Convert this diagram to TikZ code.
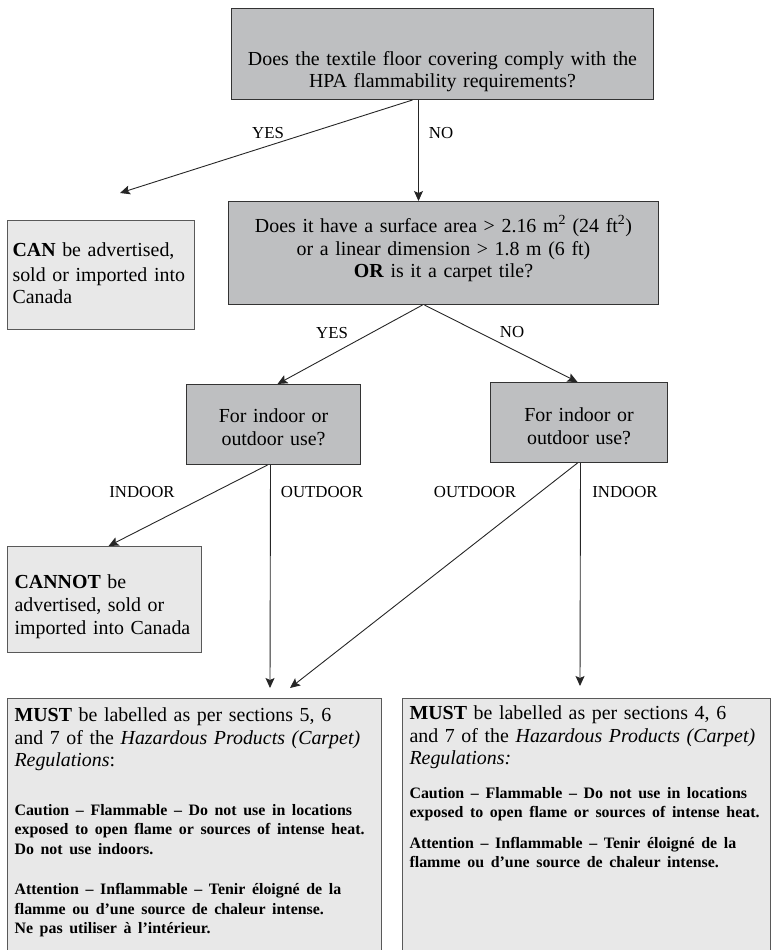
\documentclass[tikz,border=0pt]{standalone}
\usepackage{fontspec}
\setmainfont{Liberation Serif}
\usepackage{xcolor}
\definecolor{askgray}{RGB}{190,191,193}
\definecolor{endgray}{RGB}{232,232,232}
\usetikzlibrary{arrows.meta}
\hyphenpenalty=10000
\exhyphenpenalty=10000

\begin{document}
\begin{tikzpicture}[
    x=1pt, y=-1pt,
    >={Stealth[length=10pt, width=9pt, inset=2pt]},
    question/.style={draw=black!80, fill=askgray, line width=1pt, anchor=north west,
                     inner xsep=0pt, inner ysep=0pt, align=center,
                     font=\fontsize{19.9}{22.5}\selectfont},
    outcome/.style={draw=black!65, fill=endgray, line width=1.1pt, anchor=north west,
                    inner ysep=0pt, align=left,
                    font=\fontsize{19.9}{22.5}\selectfont},
    branch/.style={font=\fontsize{16.8}{18}\selectfont, inner sep=0pt},
    flow/.style={->, line width=0.9pt, draw=black!85}
]
\useasboundingbox (0,0) rectangle (771,950);
\clip (0,0) rectangle (771,950);

% ---- questions ----
\node[question, text width=422pt, text height=57pt, text depth=34pt] (q1) at (231,8)
  {Does the textile floor covering comply with the\\HPA flammability requirements?};
\node[question, text width=430pt, text height=31pt, text depth=72pt] (q2) at (228,201)
  {Does it have a surface area > 2.16 m\textsuperscript{2} (24 ft\textsuperscript{2})\\
   or a linear dimension > 1.8 m (6 ft)\\
   \textbf{OR} is it a carpet tile?};
\node[question, text width=174pt, text height=38pt, text depth=42pt] (q3) at (186,384)
  {For indoor or\\outdoor use?};
\node[question, text width=177pt, text height=39pt, text depth=41pt] (q4) at (490,382)
  {For indoor or\\outdoor use?};

% ---- outcomes ----
\node[outcome, inner xsep=5pt, text width=177pt, text height=36pt, text depth=73pt] (can) at (7,220)
  {\fontsize{19.9}{24.5}\selectfont
   \textbf{CAN} be advertised,\\sold or imported into\\Canada};
\node[outcome, inner xsep=7pt, text width=180pt, text height=42pt, text depth=64pt] (cannot) at (7,546)
  {\fontsize{19.9}{23}\selectfont
   \textbf{CANNOT} be\\advertised, sold or\\imported into Canada};

\node[outcome, inner xsep=7pt, text width=360pt, text height=23pt, text depth=270pt] (mustL) at (7,698)
  {\textbf{MUST} be labelled as per sections 5, 6\\
   and 7 of the \textit{Hazardous Products (Carpet)}\\
   \textit{Regulations}:\par
   \vspace{29pt}
   {\fontsize{15.9}{19.5}\selectfont\bfseries
   Caution -- Flammable -- Do not use in locations\\
   exposed to open flame or sources of intense heat.\\
   Do not use indoors.\par
   \vspace{21pt}
   Attention -- Inflammable -- Tenir éloigné de la\\
   flamme ou d’une source de chaleur intense.\\
   Ne pas utiliser à l’intérieur.\par}};
\node[outcome, inner xsep=7pt, text width=354pt, text height=21pt, text depth=270pt] (mustR) at (402,698)
  {\textbf{MUST} be labelled as per sections 4, 6\\
   and 7 of the \textit{Hazardous Products (Carpet)}\\
   \textit{Regulations:}\par
   \vspace{14pt}
   {\fontsize{15.9}{19.5}\selectfont\bfseries
   Caution -- Flammable -- Do not use in locations\\
   exposed to open flame or sources of intense heat.\par
   \vspace{11pt}
   Attention -- Inflammable -- Tenir éloigné de la\\
   flamme ou d’une source de chaleur intense.\par}};

% ---- free arrow ends ----
\coordinate (canTip) at (120,193);
\coordinate (outL) at (270,688);
\coordinate (outR) at (290,688);
\coordinate (inR) at (580,686);

% ---- connectors ----
\draw[flow] ([xshift=-30pt]q1.south) -- (canTip);
\draw[flow] ([xshift=-24pt]q1.south) -- ([xshift=-25pt]q2.north);
\draw[flow] ([xshift=-21pt]q2.south) -- ([xshift=4pt]q3.north);
\draw[flow] ([xshift=-19pt]q2.south) -- ([xshift=-1.5pt]q4.north);
\draw[flow] ([xshift=-6pt]q3.south) -- ([xshift=4pt]cannot.north);
\draw[flow] ([xshift=-3pt]q3.south) -- (outL);
\draw[flow] ([xshift=-1.5pt]q4.south) -- (outR);
\draw[flow] ([xshift=1.5pt]q4.south) -- (inR);

% ---- branch labels ----
\node[branch] (yes1) at (268,133) {YES};
\node[branch] (no1) at (441,133) {NO};
\node[branch] (yes2) at (332,333) {YES};
\node[branch] (no2) at (512,332) {NO};
\node[branch] (inL) at (142,492) {INDOOR};
\node[branch] (outLlab) at (322,492) {OUTDOOR};
\node[branch] (outRlab) at (475,492) {OUTDOOR};
\node[branch] (inRlab) at (625,492) {INDOOR};

\end{tikzpicture}
\end{document}
